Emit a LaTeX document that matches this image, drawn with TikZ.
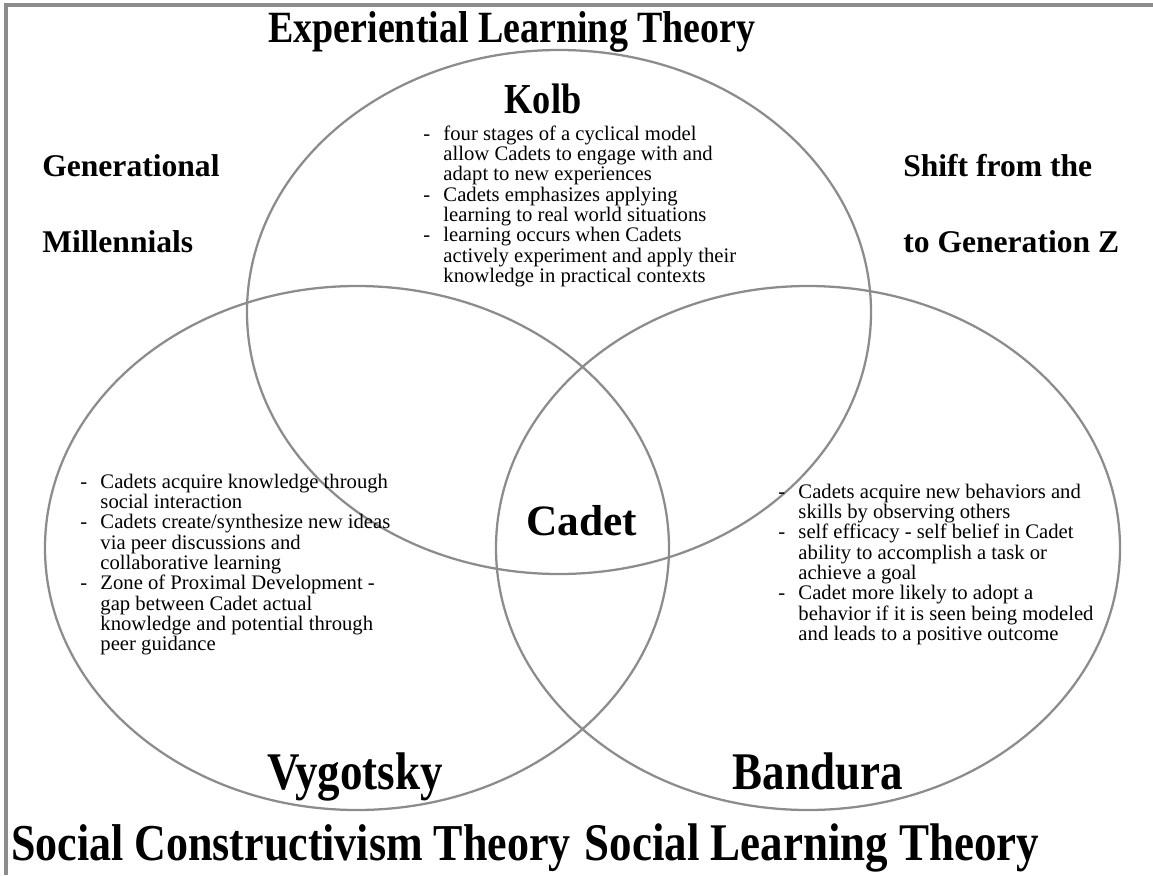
\documentclass[tikz,border=0pt]{standalone}
\usepackage{fontspec}
\setmainfont{Liberation Serif}
\newfontfamily\narrowfont[FakeStretch=0.85]{Liberation Serif}

\begin{document}
\begin{tikzpicture}[x=0.75pt, y=-0.75pt,
    ring/.style={draw=black!45, line width=1.7pt},
    theory/.style={font=\narrowfont\bfseries\fontsize{#1}{44}\selectfont, inner sep=0pt, anchor=base},
    theory/.default=39.7,
    gen/.style={font=\bfseries\fontsize{23.7}{26}\selectfont, anchor=west, inner sep=0pt},
    notes/.style={font=\fontsize{15.5}{15}\selectfont, anchor=base west, inner sep=0pt}]
    \useasboundingbox (0,0) rectangle (1153,875);
    \draw[black!45, line width=2.4pt] (6,875) -- (6,5) -- (1153,5);

    \draw[ring] (559,312) ellipse [x radius=312, y radius=262];
    \draw[ring] (357,548) ellipse [x radius=312, y radius=262];
    \draw[ring] (808,548) ellipse [x radius=312, y radius=262];

    \node[theory=33.5] (title) at (512,42) {Experiential Learning Theory};
    \node[theory=32] (kolb) at (543,113) {Kolb};
    \node[theory] (vygotsky) at (355,789) {Vygotsky};
    \node[theory] (bandura) at (818,789) {Bandura};
    \node[theory=38.8] (sct) at (291,860) {Social Constructivism Theory};
    \node[theory] (slt) at (812,860) {Social Learning Theory};

    \node[gen] (gen1) at (42,166) {Generational};
    \node[gen] (gen2) at (42,242) {Millennials};
    \node[gen] (shift1) at (903,166) {Shift from the};
    \node[gen] (shift2) at (903,242) {to Generation Z};

    \node[font=\bfseries\fontsize{32.5}{36}\selectfont, inner sep=0pt] (cadet) at (582,521) {Cadet};

    \node[notes] (kolbnotes) at (423,140) {\begin{tabular}[t]{@{}l@{\hspace{10pt}}l@{}}
        - & four stages of a cyclical model\\
          & allow Cadets to engage with and\\
          & adapt to new experiences\\
        - & Cadets emphasizes applying\\
          & learning to real world situations\\
        - & learning occurs when Cadets\\
          & actively experiment and apply their\\
          & knowledge in practical contexts
    \end{tabular}};
    \node[notes] (vygnotes) at (80,488) {\begin{tabular}[t]{@{}l@{\hspace{10pt}}l@{}}
        - & Cadets acquire knowledge through\\
          & social interaction\\
        - & Cadets create/synthesize new ideas\\
          & via peer discussions and\\
          & collaborative learning\\
        - & Zone of Proximal Development -\\
          & gap between Cadet actual\\
          & knowledge and potential through\\
          & peer guidance
    \end{tabular}};
    \node[notes] (bandnotes) at (778,498) {\begin{tabular}[t]{@{}l@{\hspace{10pt}}l@{}}
        - & Cadets acquire new behaviors and\\
          & skills by observing others\\
        - & self efficacy - self belief in Cadet\\
          & ability to accomplish a task or\\
          & achieve a goal\\
        - & Cadet more likely to adopt a\\
          & behavior if it is seen being modeled\\
          & and leads to a positive outcome
    \end{tabular}};
\end{tikzpicture}
\end{document}
